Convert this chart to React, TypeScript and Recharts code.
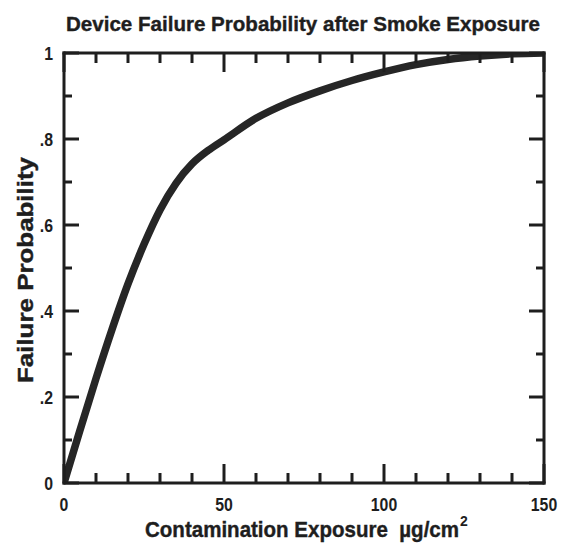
import { Line, LineChart, XAxis, YAxis } from "recharts";

// readings taken off the scanned curve
const exposure = [0, 5, 10, 15, 20, 25, 30, 35, 40, 45, 50, 60, 70, 80, 90, 100, 110, 120, 130, 140, 150];
const failureProb = [0, 0.123, 0.243, 0.357, 0.463, 0.555, 0.635, 0.697, 0.742, 0.773, 0.798, 0.848, 0.884, 0.912, 0.936, 0.956, 0.973, 0.985, 0.993, 0.998, 1];

const xTicks = [0, 10, 20, 30, 40, 50, 60, 70, 80, 90, 100, 110, 120, 130, 140, 150];
const xMajor = [0, 50, 100, 150];
const yTicks = [0, 0.1, 0.2, 0.3, 0.4, 0.5, 0.6, 0.7, 0.8, 0.9, 1];
const yMajor = [0, 0.2, 0.4, 0.6, 0.8, 1];
const yTickText = ["0", ".2", ".4", ".6", ".8", "1"];

const rows = exposure.map((x, i) => ({ x, p: failureProb[i] }));

const ink = "#1e1e1e";
const font = "'Liberation Sans', Arial, sans-serif";

const frame = { stroke: ink, strokeWidth: 3, strokeLinecap: "square" as const };

const bottomTick = (props: any) => {
  const { x, y, payload } = props;
  const major = xMajor.includes(payload.value);
  return (
    <g>
      <line x1={x} y1={y} x2={x} y2={y - (major ? 19 : 10)} stroke={ink} strokeWidth={3} />
      {major && (
        <text
          transform={`translate(${x},${y + 28}) scale(0.88,1)`}
          textAnchor="middle"
          fontFamily={font}
          fontWeight="bold"
          fontSize={18}
          fill={ink}
        >
          {payload.value}
        </text>
      )}
    </g>
  );
};

const topTick = (props: any) => {
  const { x, y, payload } = props;
  const major = xMajor.includes(payload.value);
  return <line x1={x} y1={y} x2={x} y2={y + (major ? 19 : 10)} stroke={ink} strokeWidth={3} />;
};

const leftTick = (props: any) => {
  const { x, y, payload } = props;
  const idx = yMajor.indexOf(payload.value);
  const major = idx >= 0;
  return (
    <g>
      <line x1={x} y1={y} x2={x + (major ? 15 : 8)} y2={y} stroke={ink} strokeWidth={3} />
      {major && (
        <text
          transform={`translate(${x - 11},${y + 6.5}) scale(0.88,1)`}
          textAnchor="end"
          fontFamily={font}
          fontWeight="bold"
          fontSize={18}
          fill={ink}
        >
          {yTickText[idx]}
        </text>
      )}
    </g>
  );
};

const rightTick = (props: any) => {
  const { x, y, payload } = props;
  const major = yMajor.includes(payload.value);
  return <line x1={x} y1={y} x2={x - (major ? 15 : 8)} y2={y} stroke={ink} strokeWidth={3} />;
};

export default function App() {
  return (
    <div style={{ position: "absolute", left: 0, top: 0, width: 565, height: 544, background: "#fff" }}>
      <LineChart width={565} height={544} data={rows} margin={{ top: 53, right: 21, bottom: 0, left: 0 }}>
        <XAxis
          xAxisId="x"
          dataKey="x"
          type="number"
          domain={[0, 150]}
          allowDataOverflow
          ticks={xTicks}
          interval={0}
          height={61}
          tickSize={0}
          tickMargin={0}
          tickLine={false}
          axisLine={frame}
          tick={bottomTick}
        />
        <XAxis
          xAxisId="xTop"
          dataKey="x"
          type="number"
          orientation="top"
          mirror
          domain={[0, 150]}
          allowDataOverflow
          ticks={xTicks}
          interval={0}
          height={30}
          tickSize={0}
          tickMargin={0}
          tickLine={false}
          axisLine={frame}
          tick={topTick}
        />
        <YAxis
          yAxisId="y"
          type="number"
          domain={[0, 1]}
          allowDataOverflow
          ticks={yTicks}
          interval={0}
          width={64}
          tickSize={0}
          tickMargin={0}
          tickLine={false}
          axisLine={frame}
          tick={leftTick}
        />
        <YAxis
          yAxisId="yRight"
          type="number"
          orientation="right"
          mirror
          domain={[0, 1]}
          allowDataOverflow
          ticks={yTicks}
          interval={0}
          width={30}
          tickSize={0}
          tickMargin={0}
          tickLine={false}
          axisLine={frame}
          tick={rightTick}
        />
        <Line
          xAxisId="x"
          yAxisId="y"
          dataKey="p"
          type="monotone"
          stroke="#262626"
          strokeWidth={7.5}
          strokeLinecap="round"
          dot={false}
          activeDot={false}
          isAnimationActive={false}
        />
      </LineChart>
      <svg width={565} height={544} style={{ position: "absolute", left: 0, top: 0, pointerEvents: "none" }}>
        <text
          x={66}
          y={31}
          fontFamily={font}
          fontWeight="bold"
          fontSize={21}
          fill={ink}
          stroke={ink}
          strokeWidth={0.4}
          textLength={474}
          lengthAdjust="spacingAndGlyphs"
        >
          Device Failure Probability after Smoke Exposure
        </text>
        <text
          transform="translate(33,270) rotate(-90)"
          textAnchor="middle"
          fontFamily={font}
          fontWeight="bold"
          fontSize={22}
          fill={ink}
          stroke={ink}
          strokeWidth={0.4}
          textLength={226}
          lengthAdjust="spacingAndGlyphs"
        >
          Failure Probability
        </text>
        <text
          x={145}
          y={537}
          fontFamily={font}
          fontWeight="bold"
          fontSize={22}
          fill={ink}
          stroke={ink}
          strokeWidth={0.4}
          textLength={314}
          lengthAdjust="spacingAndGlyphs"
        >
          {"Contamination Exposure\u00A0 \u00B5g/cm"}
        </text>
        <text x={460} y={526} fontFamily={font} fontWeight="bold" fontSize={14} fill={ink}>
          2
        </text>
      </svg>
    </div>
  );
}
